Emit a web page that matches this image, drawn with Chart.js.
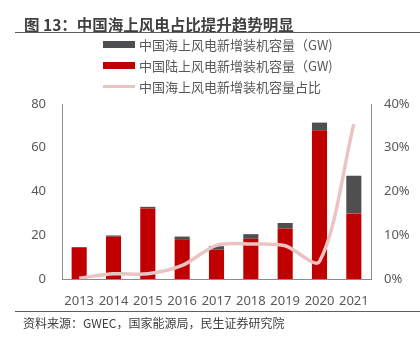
<!DOCTYPE html>
<html>
<head>
<meta charset="utf-8">
<script src="https://cdn.jsdelivr.net/npm/chart.js@4/dist/chart.umd.min.js"></script>
<style>
  html, body { margin: 0; padding: 0; background: #fff; }
  body { width: 420px; height: 339px; position: relative; overflow: hidden;
         font-family: "Noto Sans CJK SC", "Noto Sans", sans-serif; color: #404040; }
  #title { position: absolute; left: 24px; top: 14px; font-size: 15.5px; font-weight: bold;
           line-height: 20px; white-space: nowrap; color: #404040; }
  .rule { position: absolute; left: 15px; right: 0; height: 0; border-top: 1.5px solid #5f5f5f; }
  #legend { position: absolute; left: 103px; top: 34px; }
  .item { height: 21px; display: flex; align-items: center; font-size: 13px; color: #595959; white-space: nowrap; }
  .sw { width: 32px; margin-right: 4px; }
  #src { position: absolute; left: 23px; top: 315px; font-size: 12px; line-height: 16px; color: #404040; white-space: nowrap; }
  #wrap { position: absolute; left: 0; top: 0; width: 420px; height: 339px; }
</style>
</head>
<body>
<div id="wrap"><canvas id="chart"></canvas></div>
<div id="title">图 13：中国海上风电占比提升趋势明显</div>
<div class="rule" style="top:32px"></div>
<div id="legend"></div>
<div class="rule" style="top:311px"></div>
<div id="src">资料来源：GWEC，国家能源局，民生证券研究院</div>
<script>
// 年份
const years = ['2013', '2014', '2015', '2016', '2017', '2018', '2019', '2020', '2021'];
// 陆上新增装机（GW）
const onshore = [14.2, 19.3, 32.2, 18.2, 13.4, 18.4, 23.1, 68.0, 30.0];
// 海上新增装机（GW）
const offshore = [0.4, 0.6, 0.8, 1.2, 1.6, 2.1, 2.5, 3.5, 17.2];
// 海上占比（%）
const share = [0.2, 1.2, 1.2, 3.1, 7.7, 8.0, 7.6, 4.0, 35.4];

const leftTicks = [0, 20, 40, 60, 80];
const rightTicks = [0, 10, 20, 30, 40];

const tickFont = { family: '"Noto Sans", "Noto Sans CJK SC", sans-serif', size: 13 };
const axisColor = '#8c8c8c';

const ctx = document.getElementById('chart').getContext('2d');
const chart = new Chart(ctx, {
  type: 'bar',
  data: {
    labels: years,
    datasets: [
      {
        label: '中国陆上风电新增装机容量（GW)',
        data: onshore,
        backgroundColor: '#c00000',
        stack: 'gw',
        order: 1,
        barPercentage: 0.44,
        categoryPercentage: 1.0
      },
      {
        label: '中国海上风电新增装机容量（GW)',
        data: offshore,
        backgroundColor: '#4f4f51',
        stack: 'gw',
        order: 1,
        barPercentage: 0.44,
        categoryPercentage: 1.0
      },
      {
        type: 'line',
        label: '中国海上风电新增装机容量占比',
        data: share,
        yAxisID: 'y1',
        borderColor: '#ebc3c3',
        borderWidth: 3.5,
        pointRadius: 0,
        tension: 0.3,
        fill: false,
        order: 0
      }
    ]
  },
  options: {
    responsive: true,
    maintainAspectRatio: false,
    animation: false,
    layout: { padding: { top: 104, left: 0, right: 0, bottom: 34 } },
    plugins: {
      legend: { display: false },
      tooltip: { enabled: false }
    },
    scales: {
      x: {
        stacked: true,
        grid: { display: false },
        border: { display: true, color: axisColor, width: 1 },
        ticks: { font: tickFont, color: '#595959', padding: 6, maxRotation: 0 },
        afterFit: s => { s.height = 26; }
      },
      y: {
        stacked: true,
        position: 'left',
        min: 0,
        max: 80,
        afterBuildTicks: s => { s.ticks = leftTicks.map(v => ({ value: v })); },
        grid: { display: false, drawTicks: false },
        border: { display: true, color: axisColor, width: 1 },
        ticks: { font: tickFont, color: '#595959', padding: 16 },
        afterFit: s => { s.width = 62; }
      },
      y1: {
        position: 'right',
        min: 0,
        max: 40,
        afterBuildTicks: s => { s.ticks = rightTicks.map(v => ({ value: v })); },
        grid: { display: false, drawTicks: false },
        border: { display: true, color: axisColor, width: 1 },
        ticks: { font: tickFont, color: '#595959', padding: 13, callback: v => v + '%' },
        afterFit: s => { s.width = 49; }
      }
    }
  }
});

// 图例：海上、陆上、占比
const legendOrder = [1, 0, 2];
const legendBox = document.getElementById('legend');
legendOrder.forEach(i => {
  const ds = chart.data.datasets[i];
  const row = document.createElement('div');
  row.className = 'item';
  const sw = document.createElement('span');
  sw.className = 'sw';
  if (ds.type === 'line') {
    sw.style.height = '3px';
    sw.style.background = ds.borderColor;
  } else {
    sw.style.height = '7px';
    sw.style.background = ds.backgroundColor;
  }
  const txt = document.createElement('span');
  txt.textContent = ds.label;
  row.appendChild(sw);
  row.appendChild(txt);
  legendBox.appendChild(row);
});
</script>
</body>
</html>
